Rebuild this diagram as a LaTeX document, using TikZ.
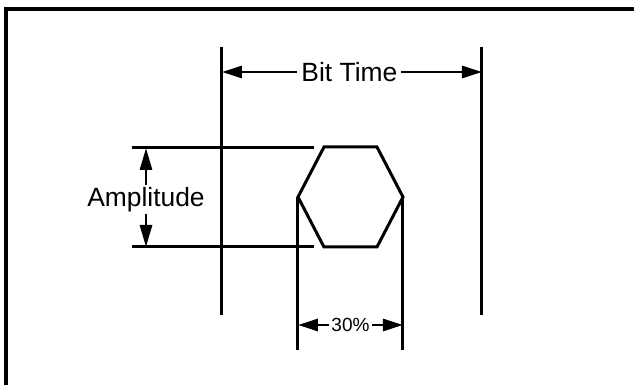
\documentclass[tikz,border=0pt]{standalone}
\usepackage{fontspec}
\setmainfont{Liberation Sans}
\usetikzlibrary{arrows.meta, positioning, calc}
\tikzstyle{caption} = [fill=white, inner sep=2pt, font=\fontsize{13.2}{15}\selectfont]
\tikzstyle{smallcaption} = [fill=white, inner sep=1pt, font=\fontsize{9.5}{11}\selectfont]
\tikzstyle{dimline} = [{Triangle[length=10pt,width=6pt]}-{Triangle[length=10pt,width=6pt]}, line width=1.4pt]
\tikzstyle{guide} = [line width=1.5pt]

\begin{document}
\begin{tikzpicture}[x=0.5pt, y=-0.5pt]
\useasboundingbox (0,0) rectangle (634,385);
\clip (0,0) rectangle (634,385);
% outer frame
\draw[line width=1.8pt] (6,400) -- (6,9) -- (650,9);

% bit time guides
\coordinate (btl) at (222,47);
\coordinate (btlb) at (222,315);
\coordinate (btr) at (482,47);
\coordinate (btrb) at (482,315);
\draw[guide] (btl) -- (btlb);
\draw[guide] (btr) -- (btrb);
\draw[dimline] (222,72) coordinate (bta) -- (482,72) coordinate (btb);
\node (bittime) [caption] at ($(bta)!0.49!(btb)$) {Bit Time};

% hexagon
\coordinate (h1) at (324,147);
\coordinate (h2) at (377,147);
\coordinate (h3) at (403,197);
\coordinate (h4) at (377,247);
\coordinate (h5) at (324,247);
\coordinate (h6) at (298,197);
\draw[guide, line join=miter] (h1) -- (h2) -- (h3) -- (h4) -- (h5) -- (h6) -- cycle;

% amplitude
\coordinate (amt) at (132,148);
\coordinate (amte) at (314,148);
\coordinate (amb) at (132,247);
\coordinate (ambe) at (314,247);
\draw[guide] (amt) -- (amte);
\draw[guide] (amb) -- (ambe);
\draw[dimline, {Triangle[length=11pt,width=6pt]}-{Triangle[length=11pt,width=6pt]}] (146,148) coordinate (ama) -- (146,247) coordinate (amc);
\node (amplitude) [caption, inner sep=1pt] at ($(ama)!0.52!(amc)$) {Amplitude};

% 30% width
\coordinate (wl) at (298,350);
\coordinate (wr) at (403,350);
\draw[guide] (h6) -- (wl);
\draw[guide] (h3) -- (wr);
\draw[dimline] (298,325) coordinate (wa) -- (403,325) coordinate (wb);
\node (width) [smallcaption] at ($(wa)!0.5!(wb)$) {30\%};
\end{tikzpicture}
\end{document}
